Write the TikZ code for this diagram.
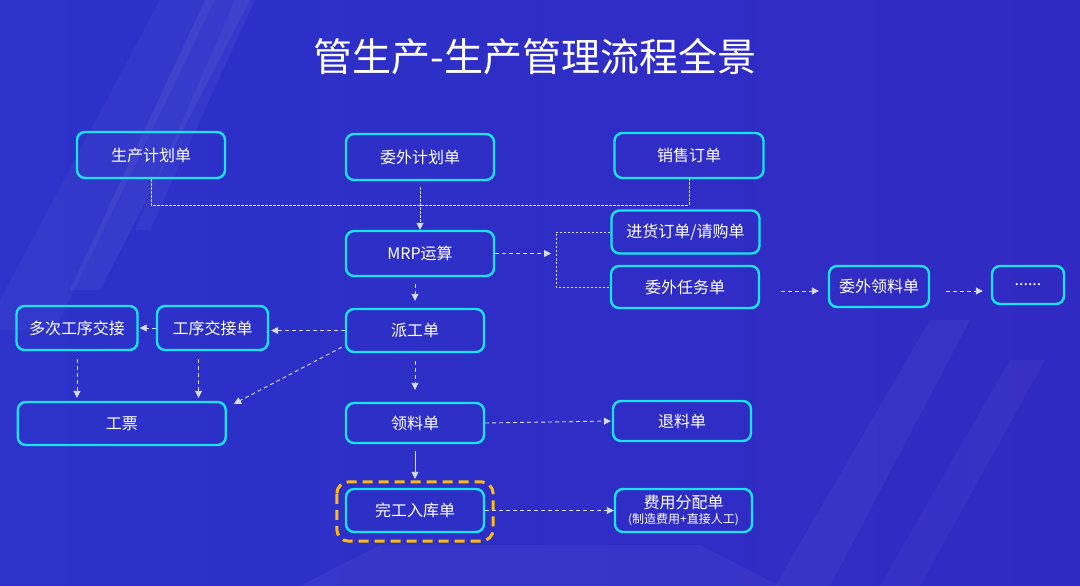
\documentclass[tikz,border=0pt]{standalone}
\usepackage{fontspec}
\setmainfont{Noto Sans CJK SC}
\usetikzlibrary{arrows.meta,calc}
\definecolor{bgl}{RGB}{44,50,202}
\definecolor{bgr}{RGB}{49,42,194}
\definecolor{cyanb}{RGB}{24,228,245}
\definecolor{lineg}{RGB}{215,220,242}
\definecolor{orangeb}{RGB}{250,188,20}
\begin{document}
\begin{tikzpicture}[x=1pt,y=-1pt,
  box/.style={draw=cyanb, line width=2.4pt, rounded corners=8pt, text=white,
    font=\fontsize{16}{18}\selectfont, inner sep=0pt},
  conn/.style={draw=lineg, line width=0.8pt, dash pattern=on 2.5pt off 1.5pt},
  mconn/.style={draw=lineg, line width=0.9pt, dash pattern=on 4pt off 3pt},
  arr/.style={conn, -{Triangle[length=7pt,width=7pt]}},
  marr/.style={mconn, -{Triangle[length=7pt,width=7pt]}},
  solidarr/.style={draw=lineg, line width=0.9pt, -{Triangle[length=7pt,width=7pt]}},
]
\shade[left color=bgl, right color=bgr] (0,0) rectangle (1080,586);
\useasboundingbox (0,0) rectangle (1080,586);
% faint decorative bands
\fill[white, opacity=0.035] (160,0) -- (215,0) -- (55,330) -- (0,330) -- (0,300) -- cycle;
\fill[white, opacity=0.05] (205,0) -- (250,0) -- (100,290) -- (70,290) -- cycle;
\fill[white, opacity=0.04] (235,0) -- (255,0) -- (150,230) -- (135,230) -- cycle;
\fill[white, opacity=0.04] (930,320) -- (970,320) -- (830,586) -- (775,586) -- cycle;
\fill[white, opacity=0.03] (1010,360) -- (1045,360) -- (920,586) -- (880,586) -- cycle;
\fill[white, opacity=0.04] (300,586) -- (380,545) -- (700,545) -- (780,586) -- cycle;

\node[text=white, font=\fontsize{39}{41}\selectfont] (title) at (535,57) {管生产-生产管理流程全景};

\node[box, minimum width=148pt, minimum height=46pt] (plan) at (151,155) {生产计划单};
\node[box, minimum width=148pt, minimum height=46pt] (outplan) at (420,157) {委外计划单};
\node[box, minimum width=149pt, minimum height=45pt] (sales) at (689,155.5) {销售订单};
\node[box, minimum width=148pt, minimum height=45pt] (mrp) at (420,253.5) {MRP运算};
\node[box, minimum width=148pt, minimum height=43pt] (purch) at (685.5,232) {进货订单/请购单};
\node[box, minimum width=148pt, minimum height=42pt] (task) at (685,287) {委外任务单};
\node[box, minimum width=100pt, minimum height=41pt] (outpick) at (879,286.5) {委外领料单};
\node[box, minimum width=72pt, minimum height=38pt] (dots) at (1028,285) {......};
\node[box, minimum width=121pt, minimum height=44pt] (multi) at (77,328) {多次工序交接};
\node[box, minimum width=111pt, minimum height=44pt] (hand) at (212.5,328) {工序交接单};
\node[box, minimum width=138pt, minimum height=43pt] (dispatch) at (415,330.5) {派工单};
\node[box, minimum width=208pt, minimum height=43pt] (ticket) at (121.75,423.5) {工票};
\node[box, minimum width=138pt, minimum height=40pt] (pick) at (415,423) {领料单};
\node[box, minimum width=138pt, minimum height=40pt] (ret) at (682,421) {退料单};
\node[box, minimum width=138pt, minimum height=43pt] (finish) at (415,510.5) {完工入库单};
\node[box, minimum width=137pt, minimum height=43pt, align=center] (cost) at (683.5,510.5)
  {费用分配单\\[-3pt]{\fontsize{12}{13}\selectfont (制造费用+直接人工)}};

\draw[orangeb, line width=3pt, dash pattern=on 10pt off 6pt, rounded corners=12pt]
  ([shift={(-8pt,6pt)}]finish.north west) rectangle ([shift={(8pt,-8pt)}]finish.south east);

\coordinate (j) at (420,205);
\coordinate (br) at (556,260);
\coordinate (mrpin) at (551,253.5);

\draw[conn] (plan.south) |- (j) -| (sales.south);
\draw[arr, shorten <=6pt] (outplan.south) -- (mrp.north);
\draw[marr] (mrp.east) -- (mrpin);
\draw[conn] (purch.west) -| (br) |- (task.west);
\draw[marr] ([shift={(21pt,-4pt)}]task.east) -- ([shift={(-9pt,-4.5pt)}]outpick.west);
\draw[marr] ([shift={(16pt,-4.5pt)}]outpick.east) -- ([shift={(-8pt,-6pt)}]dots.west);
\draw[marr, shorten <=7pt, shorten >=7pt] (dispatch.north |- mrp.south) -- (dispatch.north);
\draw[marr, shorten >=2pt] (dispatch.west) -- (dispatch.west -| hand.east);
\draw[marr, shorten >=1pt] (hand.west) -- (multi.east);
\draw[marr, shorten <=8pt, shorten >=3pt] (multi.south) -- (multi.south |- ticket.north);
\draw[marr, shorten <=8pt, shorten >=3pt] ([xshift=-14pt]hand.south) -- ([xshift=-14pt]hand.south |- ticket.north);
\draw[marr] ([shift={(-3pt,6pt)}]dispatch.south west) -- ([shift={(7pt,-3pt)}]ticket.north east);
\draw[marr, shorten <=8pt, shorten >=12pt] (dispatch.south) -- (pick.north);
\draw[marr, shorten >=1pt] (pick.east) -- (ret.west);
\draw[solidarr, shorten <=7pt, shorten >=9pt] (pick.south) -- (finish.north);
\draw[marr] (finish.east) -- (cost.west);
\end{tikzpicture}
\end{document}
